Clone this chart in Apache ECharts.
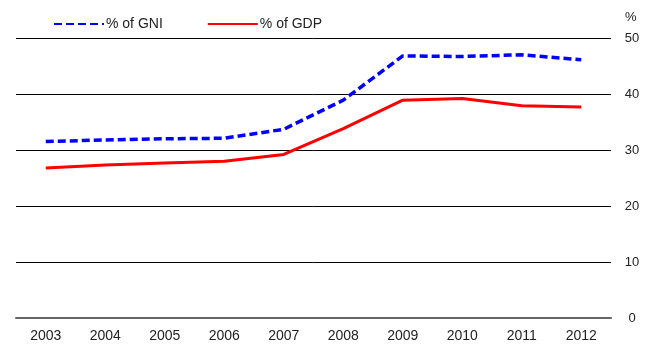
<!DOCTYPE html>
<html>
<head>
<meta charset="utf-8">
<script src="https://cdn.jsdelivr.net/npm/echarts@6/dist/echarts.min.js"></script>
<style>html,body{margin:0;padding:0;background:#fff}#c{width:650px;height:360px}</style>
</head>
<body>
<div id="c"></div>
<script>
var years = ['2003','2004','2005','2006','2007','2008','2009','2010','2011','2012'];
var gni = [31.5, 31.8, 32.0, 32.1, 33.7, 38.9, 46.8, 46.7, 47.0, 46.1];
var gdp = [26.8, 27.3, 27.7, 28.0, 29.2, 33.8, 38.9, 39.2, 37.9, 37.7];
var seriesNames = ['% of GNI', '% of GDP'];

var font = 'Liberation Sans, Arial, sans-serif';
var chart = echarts.init(document.getElementById('c'), null, {renderer: 'canvas'});
chart.setOption({
  animation: false,
  textStyle: {fontFamily: font},
  legend: {
    left: 48, top: 12,
    itemWidth: 50, itemHeight: 14, itemGap: 44,
    itemStyle: {opacity: 0},
    textStyle: {fontFamily: font, fontSize: 14, color: '#222', padding: [0, 0, 0, -3]},
    data: seriesNames
  },
  graphic: [{
    type: 'text', left: 625, top: 11,
    style: {text: '%', fontFamily: font, fontSize: 13, fill: '#222'}
  }],
  grid: {left: 16, right: 39, top: 38, bottom: 42},
  xAxis: {
    type: 'category', data: years, boundaryGap: true,
    axisLine: {lineStyle: {color: '#666', width: 2}},
    axisTick: {show: false},
    axisLabel: {fontFamily: font, fontSize: 14, color: '#222', margin: 11}
  },
  yAxis: {
    type: 'value', position: 'right', min: 0, max: 50, interval: 10,
    axisLine: {show: false}, axisTick: {show: false},
    axisLabel: {fontFamily: font, fontSize: 13, color: '#222', margin: 21, align: 'center'},
    splitLine: {lineStyle: {color: '#000', width: 1}}
  },
  series: [{
    name: seriesNames[0], type: 'line', data: gni, symbol: 'none',
    lineStyle: {color: '#0000ff', width: 3.5, type: [8, 4]},
    itemStyle: {color: '#0000ff'}
  }, {
    name: seriesNames[1], type: 'line', data: gdp, symbol: 'none',
    lineStyle: {color: '#ff0000', width: 3},
    itemStyle: {color: '#ff0000'}
  }]
});
</script>
</body>
</html>
